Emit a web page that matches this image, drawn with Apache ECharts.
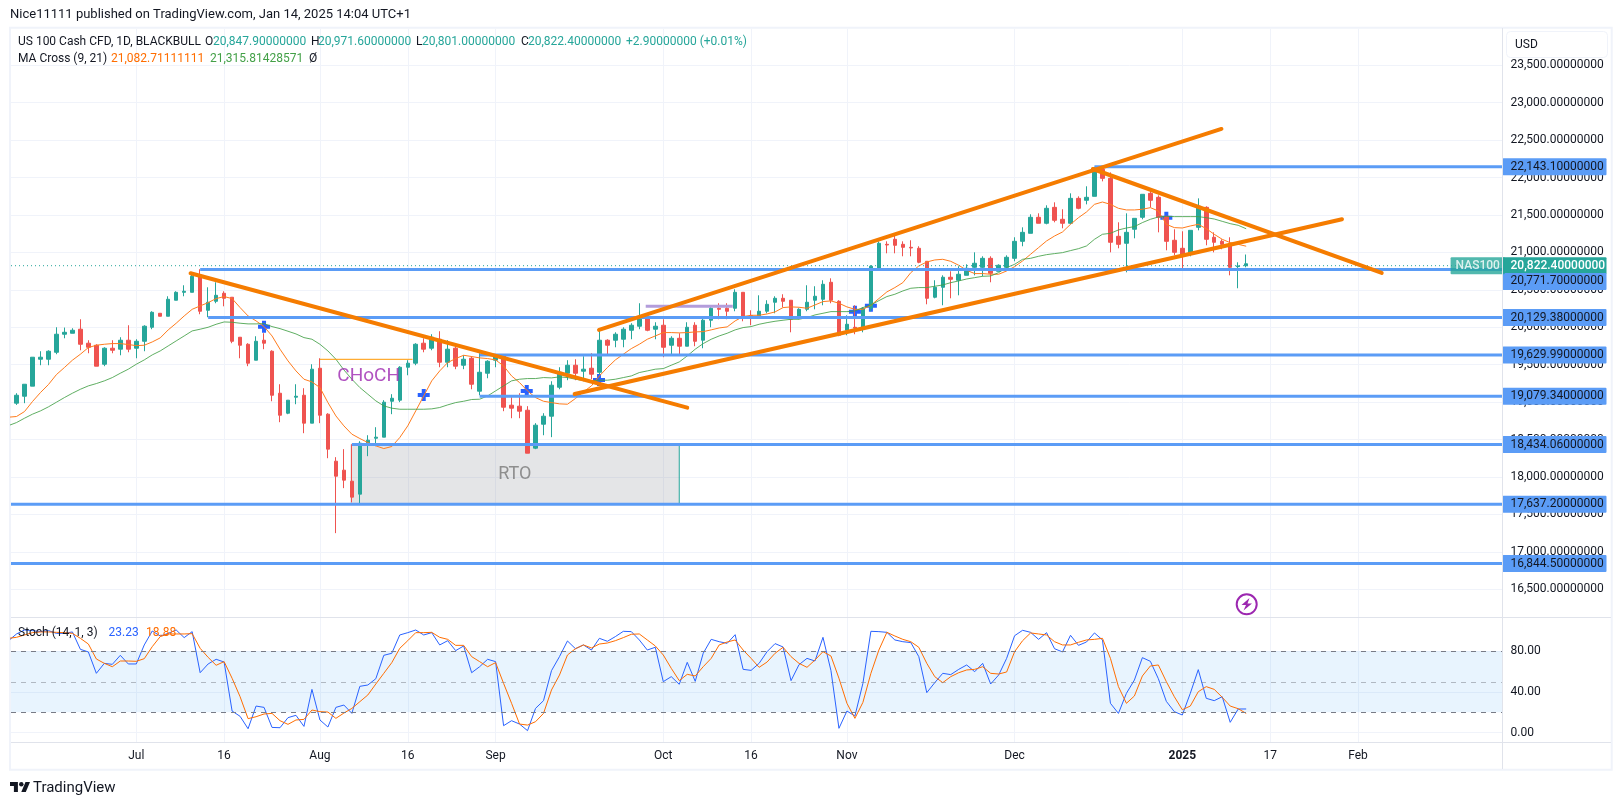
<!DOCTYPE html>
<html>
<head>
<meta charset="utf-8">
<style>html,body{margin:0;padding:0;background:#fff}#c{width:1622px;height:805px}</style>
<script src="https://cdn.jsdelivr.net/npm/echarts@6/dist/echarts.min.js"></script>
</head>
<body>
<div id="c"></div>
<script>
const firstIndex = -1;
const opens = [19039,18986,19079,19213,19573,19573,19666,19907,19920,19974,19787,19760,19506,19720,19707,19827,19720,19813,20000,20187,20147,20361,20467,20467,20694,20227,20347,20454,20401,19867,19773,19560,19827,19680,19119,18852,19066,19092,18719,19453,18839,18211,18091,17944,17771,18425,18518,18532,19012,19026,19466,19520,19787,19720,19840,19533,19720,19493,19586,19146,19386,19560,19626,18959,18946,18892,18385,18705,18812,19199,19386,19493,19413,19453,19399,19827,19827,19840,19960,20014,20134,19974,20027,19760,19853,19747,20027,19827,20094,20254,20254,20254,20467,20156,20134,20214,20334,20387,20361,20134,20240,20361,20374,20601,20347,19960,20000,19987,20254,20788,21108,21175,21108,21068,21055,20881,20401,20534,20668,20628,20694,20801,20801,20921,20748,20801,20921,21148,21255,21469,21389,21602,21442,21389,21722,21696,21749,22110,21989,21215,21122,21309,21469,21789,21736,21482,21162,21055,20975,21335,21602,21202,21148,21122,20810,20822.4];
const closes = [18986,19092,19239,19600,19600,19680,19907,19933,19960,19773,19733,19480,19720,19693,19827,19707,19813,20014,20200,20147,20374,20467,20481,20681,20214,20334,20427,20387,19813,19760,19520,19813,19787,19092,18825,19026,19079,18719,19440,18825,18372,18011,17958,17731,18452,18492,18532,18999,19052,19466,19520,19773,19707,19867,19533,19707,19480,19573,19239,19399,19546,19613,18932,18919,18879,18318,18692,18812,19226,19399,19493,19386,19440,19373,19827,19760,19907,19974,20027,20134,19960,20014,19733,19853,19747,20000,19813,20094,20254,20240,20214,20467,20147,20138,20214,20307,20387,20347,20107,20240,20334,20414,20574,20361,19893,20040,19987,20254,20815,21122,21099,21095,21068,21059,20868,20387,20534,20668,20641,20708,20788,20855,20921,20721,20828,20935,21148,21268,21469,21389,21589,21429,21389,21722,21589,21736,22110,21989,21135,21108,21268,21455,21776,21696,21469,21148,21001,20961,21295,21616,21175,21135,21108,20801,20819.5,20847.9];
const highs = [19100,19119,19239,19600,19680,19693,20000,19996,19987,20107,19827,19773,19733,19827,19867,20027,19840,20027,20214,20187,20414,20481,20561,20708,20775,20534,20601,20481,20401,19867,19787,19880,19920,19693,19239,19026,19239,19186,19506,19586,18852,18265,18372,18438,18478,18558,18665,19026,19106,19480,19560,19787,19853,19907,19947,19827,19787,19626,19613,19653,19560,19640,19640,19066,19119,18946,18719,18852,19279,19466,19560,19573,19613,19653,19974,19840,19933,20000,20054,20321,20147,20067,20107,19880,19920,20067,20067,20147,20294,20321,20321,20507,20467,20227,20427,20361,20414,20441,20361,20254,20561,20548,20628,20654,20361,20160,20294,20267,20828,21148,21148,21228,21148,21162,21082,20881,20628,20694,20748,20815,20841,21001,20948,20948,20841,20961,21202,21335,21509,21522,21629,21669,21576,21789,21749,21883,22143,22110,22069,21402,21522,21455,21776,21843,21762,21482,21309,21282,21295,21722,21616,21268,21175,21202,20868,20971.6];
const lows = [18960,18963,18986,19213,19493,19493,19640,19853,19920,19693,19653,19480,19480,19653,19626,19666,19586,19680,19974,20147,20147,20361,20414,20467,20174,20134,20321,20280,19787,19586,19480,19560,19707,19012,18732,18839,18972,18585,18719,18719,18251,17250,17851,17660,17637,18278,18412,18532,18839,19000,19359,19493,19666,19693,19466,19466,19440,19440,19172,19092,19319,19466,18879,18785,18785,18318,18372,18558,18532,19172,19293,19293,19279,19306,19373,19626,19733,19733,19840,19974,19947,19840,19600,19626,19640,19747,19747,19720,20000,20107,20107,20214,20080,20027,20120,20187,20187,20267,19933,20107,20214,20240,20294,20321,19880,19893,19907,19933,20214,20761,20988,20988,20948,20948,20855,20307,20387,20294,20387,20427,20694,20694,20681,20601,20748,20761,20881,21082,21255,21389,21375,21402,21322,21375,21576,21642,21749,21949,21001,21055,20734,21188,21442,21602,21268,21028,20961,20775,20948,21295,21095,21001,21042,20694,20521,20801];
const ma9 = [18799,18808,18874,19008,19128,19235,19368,19462,19560,19640,19729,19760,19773,19782,19782,19769,19755,19760,19804,19858,19965,20054,20151,20240,20285,20329,20383,20410,20383,20263,20151,20085,20009,19884,19707,19551,19417,19306,19270,19195,18994,18816,18683,18572,18514,18460,18416,18380,18407,18527,18683,18883,19083,19284,19417,19528,19582,19626,19609,19591,19582,19564,19484,19350,19261,19150,19061,19012,18994,18977,18972,19048,19137,19217,19350,19462,19564,19640,19715,19773,19840,19884,19929,19929,19925,19929,19938,19942,19965,19991,20005,20085,20143,20160,20160,20178,20205,20263,20272,20267,20254,20298,20343,20352,20321,20272,20240,20240,20294,20383,20472,20530,20596,20730,20819,20872,20899,20908,20881,20828,20761,20717,20717,20708,20708,20752,20810,20886,20975,21064,21153,21219,21273,21375,21464,21540,21642,21673,21642,21589,21567,21567,21576,21598,21553,21375,21331,21326,21353,21375,21317,21242,21175,21130,21108,21082.7];
const ma21 = [18687,18727,18785,18839,18883,18937,18999,19061,19119,19172,19217,19248,19284,19328,19386,19440,19506,19564,19631,19684,19751,19818,19884,19951,19974,20000,20040,20071,20067,20054,20045,20045,20049,20009,19982,19947,19911,19862,19840,19773,19684,19573,19431,19306,19195,19106,19017,18950,18919,18905,18905,18905,18905,18910,18928,18963,18994,19012,19035,19039,19083,19150,19217,19284,19306,19315,19315,19328,19324,19337,19328,19306,19288,19288,19293,19293,19306,19328,19350,19395,19417,19440,19448,19493,19537,19617,19707,19782,19840,19884,19920,19965,19996,20009,20040,20062,20080,20094,20107,20107,20129,20165,20187,20209,20209,20209,20218,20263,20298,20356,20410,20441,20485,20521,20530,20530,20548,20565,20596,20619,20645,20663,20681,20685,20730,20797,20841,20908,20921,20948,20970,20984,20997,21024,21050,21086,21175,21242,21255,21300,21326,21344,21398,21442,21473,21482,21478,21478,21478,21478,21464,21446,21415,21384,21362,21315.8];
const stochK = [90.4,97,100.9,100.3,99.3,100.3,97.6,97.6,99,81.9,79.3,58.3,68.1,67.1,76,67.5,67.5,86.2,99.9,95,97.6,100.9,93.4,99.3,58.9,67.5,72.1,69.4,21.2,16,3.8,26.1,24.8,5.1,4.8,14.7,17,6.1,42.5,12.4,5.5,24.8,27.1,18.9,45.5,46.8,53,76,78,96,98.3,100.9,96,98.3,86.2,90.4,80.6,85.2,58.9,64.8,72.1,69.8,6.8,11.7,8.4,1.9,23.8,31.4,60.9,74.7,90.1,82.5,86.2,81.2,92.7,89.8,94.4,99.6,99.3,91.1,81.2,83.9,50.1,55,47.5,69.1,50.4,78,91.7,89.4,87.8,96.3,62.2,61.2,68.1,79.6,87.5,84.2,51.1,66.8,73,70.4,93.7,60.9,4.2,21.2,16.3,48.4,99.6,99.3,98.6,91.1,89.4,88.5,74.7,39.3,49.1,58.3,57,62.2,66.5,59.9,68.1,47.8,56.6,73,95.3,100.6,98.6,91.7,98.3,82.5,79.3,95.7,85.8,89.1,98,91.1,28.8,18.9,38.6,51.7,73.7,70.1,53,30.7,20.6,17.3,38.6,61.9,33.7,31.4,35.3,10.1,23.2,23.23];
const stochD = [92.7,93.7,96,98.3,99,99,98.6,98.3,97.6,92.7,87.1,72.4,68.1,64.8,70.4,70.4,70.1,72.7,84.5,94.4,97,97,97,97.3,82.9,74,66.2,69.8,53.4,35.3,13.7,15.6,18.3,18.9,11.7,8.1,12.4,13,22.2,20.6,20.2,14,19.2,23.8,30.4,37,47.8,58.3,68.8,82.9,90.4,98.3,98.3,98.6,93.7,91.7,85.8,85.8,74.7,69.8,64.8,68.8,48.4,28.8,8.4,7.4,10.7,18.9,41.9,56.6,76.3,82.5,86.2,83.2,87.1,88.1,90.4,93.4,96.7,97,91.1,85.2,76.3,63.2,51.1,57.3,55.7,64.8,73,86.2,89.1,91.1,81.2,73,64.2,69.4,78,83.9,74.7,68.1,64.2,71.4,79.6,75.3,53.4,28.8,14,29.7,58.3,81.2,98.6,95,91.7,89.4,83.9,68.1,55,49.1,55,58.9,61.6,62.2,64.8,58.3,57.6,59.6,79.6,90.4,98,97,96,89.4,86.2,86.2,88.8,91.1,91.7,92.7,73,45.2,28.8,36,55.7,65.5,66.5,50.1,35.3,22.5,26.1,40.2,45.2,42.5,34.7,26.1,23.5,18.88];

const levelValues = [22143.1,20771.7,20129.38,19629.99,19079.34,18434.06,17637.2,16844.5];
const levelStarts = [135,23,24,58,58,42,-1,-1];
const levelLabelOffsets = [0,12,0,0,0,0,0,0];
const priceTicks = [16500,17000,17500,18000,18500,19000,19500,20000,20500,21000,21500,22000,22500,23000,23500];
const stochTicks = [0,40,80];
const timeTickIndex = [15,26,38,49,60,81,92,104,125,146,157,168];
const timeTickLabels = ['Jul','16','Aug','16','Sep','Oct','16','Nov','Dec','2025','17','Feb'];
const trendLines = [
  [[21.8,20721],[84,18926]],
  [[72.95,19964],[150.9,22649]],
  [[69.9,19109],[166,21443]],
  [[134.8,22114],[170.97,20725]]
];
const crossMarks = [[31,20008],[51,19095],[63.9,19149],[72.95,19295],[105,20208],[107,20288],[144,21464]];
const lastPrice = 20822.4;
const xMin = -0.689, xMax = 186.1;
const priceMin = 16130, priceMax = 23988;
const stochMin = -9.25, stochMax = 112.7;

const UP='#26a69a', DOWN='#ef5350', LEVEL='#5b9cf6', TREND='#f57c00', GRID='#f0f3fa', EDGE='#e0e3eb', INK='#131722';
const FONT='Roboto, sans-serif';
const idx = i => i + firstIndex;
const pair = arr => arr.map((v,i)=>[idx(i),v]);
const fmt = v => v.toLocaleString('en-US',{minimumFractionDigits:8,maximumFractionDigits:8});
const tagLabel = (bg,color,offsetY)=>({show:true,distance:0,offset:[0,offsetY||0],formatter:p=>fmt(p.value[1]),
  color,backgroundColor:bg,fontFamily:FONT,fontSize:12,lineHeight:13,width:92,padding:[2,4,2,8],align:'left',overflow:'none',borderRadius:1});

const series = [];
series.push({type:'line',xAxisIndex:0,yAxisIndex:0,data:[],z:1,silent:true,symbol:'none',
  markArea:{silent:true,itemStyle:{color:'rgba(120,123,134,0.2)'},data:[[{coord:[41.8,levelValues[5]]},{coord:[83,levelValues[6]]}]]}});
series.push({type:'line',xAxisIndex:0,yAxisIndex:0,z:1,data:[[83,levelValues[5]],[83,levelValues[6]]],symbol:'none',lineStyle:{color:UP,width:1}});
series.push({type:'line',xAxisIndex:1,yAxisIndex:1,data:[],z:1,symbol:'none',
  markArea:{silent:true,itemStyle:{color:'rgba(33,150,243,0.1)'},data:[[{coord:[xMin,80]},{coord:[xMax,20]}]]},
  markLine:{silent:true,symbol:'none',label:{show:false},data:[
    {yAxis:80,lineStyle:{color:'#787b86',type:[5,5],width:1}},
    {yAxis:50,lineStyle:{color:'rgba(120,123,134,0.5)',type:[5,5],width:1}},
    {yAxis:20,lineStyle:{color:'#787b86',type:[5,5],width:1}}]}});
series.push({type:'scatter',xAxisIndex:0,yAxisIndex:0,z:1,data:crossMarks,symbolSize:12,
  symbol:'path://M4,0h4v4h4v4h-4v4h-4v-4h-4v-4h4z',itemStyle:{color:'#2962ff',opacity:1}});
series.push({type:'candlestick',xAxisIndex:0,yAxisIndex:0,z:2,barWidth:4,
  data:opens.map((o,i)=>[idx(i),o,closes[i],lows[i],highs[i]]),
  encode:{x:0,y:[1,2,3,4]},
  itemStyle:{color:UP,color0:DOWN,borderColor:UP,borderColor0:DOWN,borderWidth:1}});
series.push({type:'line',xAxisIndex:0,yAxisIndex:0,z:3,data:pair(ma9),symbol:'none',lineStyle:{color:'#ff7b1c',width:1}});
series.push({type:'line',xAxisIndex:0,yAxisIndex:0,z:3,data:pair(ma21),symbol:'none',lineStyle:{color:'#43a047',width:1,opacity:.85}});
series.push({type:'line',xAxisIndex:0,yAxisIndex:0,z:4,data:[[xMin,lastPrice],[xMax,lastPrice]],symbol:'none',
  lineStyle:{color:UP,width:1,type:[1,3]},endLabel:Object.assign(tagLabel(UP,'#fff'),{fontWeight:500})});
levelValues.forEach((v,i)=>{
  series.push({type:'line',xAxisIndex:0,yAxisIndex:0,z:5,data:[[Math.max(levelStarts[i],xMin),v],[xMax,v]],symbol:'none',
    lineStyle:{color:LEVEL,width:3},endLabel:tagLabel(LEVEL,INK,levelLabelOffsets[i])});
});
trendLines.forEach(t=>series.push({type:'line',xAxisIndex:0,yAxisIndex:0,z:6,data:t,symbol:'none',
  lineStyle:{color:TREND,width:4,cap:'round'}}));
series.push({type:'line',xAxisIndex:0,yAxisIndex:0,z:5,data:[[78.8,20280],[89.7,20280]],symbol:'none',lineStyle:{color:'#b39ddb',width:3}});
series.push({type:'line',xAxisIndex:0,yAxisIndex:0,z:5,data:[[38,19572],[49.6,19572]],symbol:'none',lineStyle:{color:'#ff9800',width:1}});
series.push({type:'scatter',xAxisIndex:0,yAxisIndex:0,z:7,symbolSize:0,
  data:[{value:[44.1,19340],name:'CHoCH',label:{color:'#9c27b0',fontSize:19}},
        {value:[62.4,18027],name:'RTO',label:{color:'#787878',fontSize:18}}],
  label:{show:true,position:'inside',formatter:'{b}',fontFamily:FONT}});
series.push({type:'scatter',xAxisIndex:0,yAxisIndex:0,z:8,symbolSize:0,
  data:[{value:[183,lastPrice],name:'NAS100'}],
  label:{show:true,position:'inside',formatter:'{b}',color:'#fff',backgroundColor:UP,fontFamily:FONT,fontSize:12,fontWeight:500,lineHeight:13,padding:[2,5,2,5],borderRadius:1}});
series.push({type:'line',xAxisIndex:1,yAxisIndex:1,z:3,data:pair(stochK),symbol:'none',lineStyle:{color:'#2962ff',width:1}});
series.push({type:'line',xAxisIndex:1,yAxisIndex:1,z:4,data:pair(stochD),symbol:'none',lineStyle:{color:'#ff6d00',width:1}});

const txt = (x,y,text,fill,extra)=>({type:'text',x,y,z:50,silent:true,style:Object.assign({text,fill:fill||INK,font:'12px '+FONT,textVerticalAlign:'middle'},extra||{})});
const teal = UP;
const graphic = [
  {type:'rect',z:-1,silent:true,shape:{x:10,y:27.7,width:1601.7,height:742},style:{fill:'none',stroke:GRID,lineWidth:2}},
  {type:'line',z:40,silent:true,shape:{x1:1502.5,y1:28,x2:1502.5,y2:769},style:{stroke:EDGE,lineWidth:1}},
  {type:'line',z:40,silent:true,shape:{x1:11,y1:617.5,x2:1611,y2:617.5},style:{stroke:EDGE,lineWidth:1}},
  {type:'line',z:40,silent:true,shape:{x1:11,y1:742.5,x2:1611,y2:742.5},style:{stroke:EDGE,lineWidth:1}},
  {type:'rect',z:45,silent:true,shape:{x:1506.5,y:31.5,width:101,height:26,r:4},style:{fill:'#fff',stroke:GRID,lineWidth:1}},
  txt(1515,45,'USD'),
  txt(10,15,'Nice11111 published on TradingView.com, Jan 14, 2025 14:04 UTC+1',INK,{font:'13px '+FONT}),
  txt(18,42,'US 100 Cash CFD, 1D, BLACKBULL'),
  txt(205,42,'O'),txt(213,42,'20,847.90000000',teal),
  txt(311,42,'H'),txt(318,42,'20,971.60000000',teal),
  txt(416,42,'L'),txt(422,42,'20,801.00000000',teal),
  txt(521,42,'C'),txt(528,42,'20,822.40000000',teal),
  txt(626,42,'+2.90000000 (+0.01%)',teal),
  txt(18,59,'MA Cross (9, 21)'),txt(111,59,'21,082.71111111','#ff6d00'),txt(210,59,'21,315.81428571','#43a047'),txt(309,59,'Ø'),
  txt(18,633,'Stoch (14, 1, 3)'),txt(108.6,633,'23.23','#2962ff'),txt(146,633,'18.88','#ff6d00'),
  {type:'circle',z:30,silent:true,shape:{cx:1246.7,cy:604.3,r:10},style:{fill:'#fff',stroke:'#9c27b0',lineWidth:2}},
  {type:'polygon',z:31,silent:true,shape:{points:[[1249.5,598],[1241.5,605],[1246,605],[1243.5,610.5],[1252,603.5],[1247.5,603.5]]},style:{fill:'#9c27b0'}},
  {type:'polygon',z:30,silent:true,shape:{points:[[17.9,792.1],[13.9,792.1],[13.9,785.9],[10,785.9],[10,782],[17.9,782]]},style:{fill:INK}},
  {type:'polygon',z:30,silent:true,shape:{points:[[25.8,792.1],[21.3,792.1],[25.5,782],[30,782]]},style:{fill:INK}},
  {type:'circle',z:30,silent:true,shape:{cx:21.3,cy:784.3,r:2.25},style:{fill:INK}},
  txt(33,788,'TradingView',INK,{font:'15px '+FONT})
];

const axisLabelBase = {fontFamily:FONT,fontSize:12,color:INK};
const option = {
  animation:false,backgroundColor:'#fff',
  grid:[{left:11,top:28.7,width:1491.5,height:588.3},{left:11,top:618,width:1491.5,height:124}],
  xAxis:[0,1].map(g=>({type:'value',gridIndex:g,min:xMin,max:xMax,
    axisLine:{show:false},
    axisTick:{show:false,customValues:timeTickIndex},
    splitLine:{show:true,lineStyle:{color:GRID,width:1}},
    axisLabel:g===0?{show:false,customValues:timeTickIndex}:Object.assign({},axisLabelBase,{
      show:true,margin:8,customValues:timeTickIndex,
      formatter:v=>{const l=timeTickLabels[timeTickIndex.indexOf(v)];return l==='2025'?'{b|2025}':l;},
      rich:{b:{fontWeight:'bold',fontFamily:FONT,fontSize:12,color:INK}}})
  })),
  yAxis:[
    {type:'value',gridIndex:0,position:'right',min:priceMin,max:priceMax,
     axisLine:{show:false},axisTick:{show:false,customValues:priceTicks},
     splitLine:{show:true,lineStyle:{color:GRID,width:1}},
     axisLabel:Object.assign({},axisLabelBase,{margin:8,customValues:priceTicks,formatter:fmt})},
    {type:'value',gridIndex:1,position:'right',min:stochMin,max:stochMax,
     axisLine:{show:false},axisTick:{show:false,customValues:stochTicks},
     splitLine:{show:true,lineStyle:{color:GRID,width:1}},
     axisLabel:Object.assign({},axisLabelBase,{margin:8,customValues:stochTicks,formatter:v=>v.toFixed(2)})}
  ],
  series,graphic
};
const chart = echarts.init(document.getElementById('c'),null,{renderer:'canvas'});
chart.setOption(option);
</script>
</body>
</html>
